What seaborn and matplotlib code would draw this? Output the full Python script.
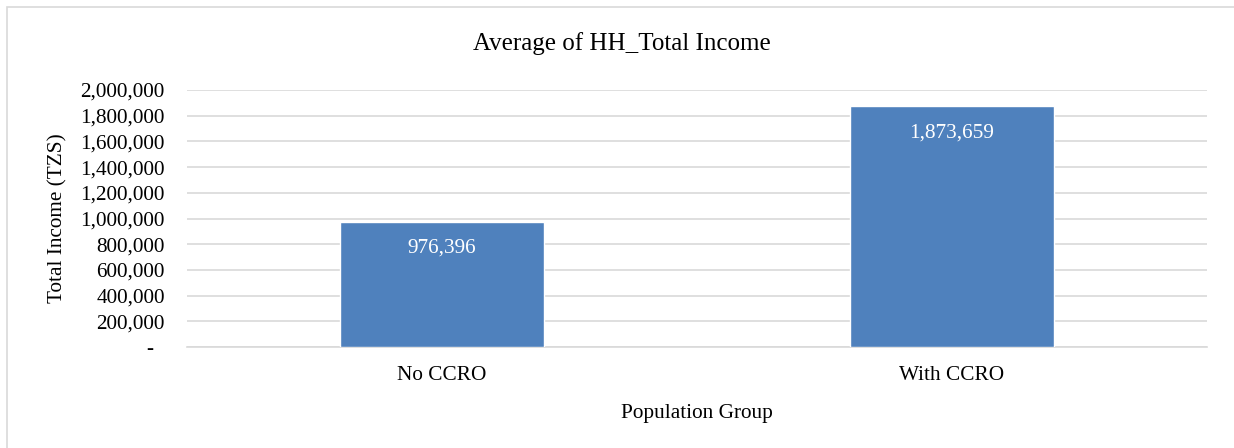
import matplotlib
matplotlib.use("Agg")
import matplotlib.pyplot as plt
import seaborn as sns
import pandas as pd
from matplotlib.ticker import FuncFormatter
from matplotlib.patches import Rectangle

groups = ["No CCRO", "With CCRO"]
income = [976396, 1873659]
yticks = list(range(0, 2000001, 200000))

sns.set_style("white")
plt.rcParams['font.family'] = ['Liberation Serif', 'DejaVu Serif']
plt.rcParams['text.color'] = 'black'
plt.rcParams['xtick.color'] = 'black'
plt.rcParams['ytick.color'] = 'black'
plt.rcParams['axes.labelcolor'] = 'black'

fig = plt.figure(figsize=(12.34, 4.48), dpi=100)
ax = fig.add_axes([187/1234, 1-347/448, (1207-187)/1234, (347-90)/448])

df = pd.DataFrame({"group": groups, "income": income})
sns.barplot(data=df, x="group", y="income", color="#4F81BD", saturation=1,
            width=0.4, ax=ax, zorder=3)

fs = 15.3
ax.set_ylim(0, 2000000)
ax.set_yticks(yticks)
ax.yaxis.set_major_formatter(FuncFormatter(lambda v, p: "-  " if v == 0 else f"{int(v):,}"))
ax.grid(axis="y", color="#D9D9D9", linewidth=1.2, zorder=0)
ax.set_axisbelow(True)
for s in ["top", "right", "left"]:
    ax.spines[s].set_visible(False)
ax.spines["bottom"].set_color("#D9D9D9")
ax.spines["bottom"].set_linewidth(1.2)
ax.tick_params(axis="y", length=0, labelsize=fs, pad=16)
ax.tick_params(axis="x", length=0, labelsize=fs, pad=13.5)
ax.set_xlabel("Population Group", fontsize=fs, labelpad=14)
ax.set_ylabel("Total Income (TZS)", fontsize=fs, labelpad=9)

for i, v in enumerate(income):
    ax.annotate(f"{v:,}", (i, v), xytext=(0, -27), textcoords="offset pixels",
                ha="center", va="center", color="white", fontsize=fs)

fig.text(622/1234, 1-44/448, "Average of HH_Total Income", ha="center", va="center", fontsize=18)

fig.patches.append(Rectangle((7/1234, -0.1), 1.2, 1-7/448+0.1, transform=fig.transFigure,
                             fill=False, edgecolor="#D9D9D9", linewidth=1.2))

fig.savefig("out.png", dpi=100)
